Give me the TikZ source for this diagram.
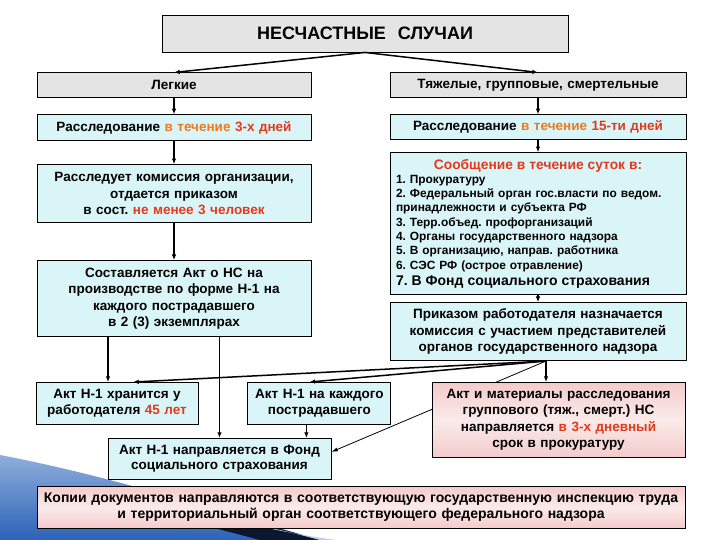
\documentclass[tikz,border=0pt]{standalone}
\usepackage{fontspec}
\setmainfont{Liberation Sans}
\usetikzlibrary{positioning, arrows.meta}
\frenchspacing

\definecolor{lgray}{HTML}{E4E4E4}
\definecolor{lcyan}{HTML}{DAF5F7}
\definecolor{lpink}{HTML}{F4CBCB}
\definecolor{hor}{HTML}{EB7A22}
\definecolor{hred}{HTML}{E23A1C}
\definecolor{swA}{HTML}{8FAEDB}
\definecolor{swB}{HTML}{2C62B8}
\definecolor{swC}{HTML}{0B1630}

\begin{document}
\begin{tikzpicture}[x=1pt, y=-1pt,
        G/.style = {draw, black, fill=lgray, line width=0.9pt, inner sep=2pt, align=center, font=\bfseries\fontsize{13.5}{16.5}\selectfont},
        C/.style = {draw, black, fill=lcyan, line width=0.9pt, inner sep=2pt, align=center, font=\bfseries\fontsize{13.5}{16.5}\selectfont},
        P/.style = {draw, black, top color=lpink, bottom color=lpink, middle color=lpink!40, line width=0.9pt, inner sep=2pt, align=center, font=\bfseries\fontsize{13.5}{16.5}\selectfont},
        arrow/.style = {-{Latex[length=2mm, width=1.6mm]}, line width=1.5pt},
        arrowthin/.style = {-{Latex[length=2.2mm, width=1.4mm]}, line width=0.8pt}
    ]
        \useasboundingbox (0,0) rectangle (720,540);

        % slide background
        \shade[top color=swA, bottom color=swB] (0,455) .. controls (100,474) and (200,505) .. (320,540) -- (0,540) -- cycle;
        \fill[swC] (120,490) .. controls (200,508) and (260,523) .. (320,540) -- (260,540) .. controls (230,532) and (190,522) .. (110,500) -- cycle;
        \fill[swA!60] (230,520) .. controls (270,529) and (305,536) .. (336,540) -- (320,540) .. controls (290,532) and (260,525) .. (230,520) -- cycle;

        \node[G, text width=402pt, minimum height=37pt, font=\bfseries\fontsize{18}{20}\selectfont] (T) at (365,33.5) {НЕСЧАСТНЫЕ\ \ СЛУЧАИ};

        \node[G, text width=270pt, minimum height=25pt, below=20pt of T, xshift=-191pt] (Lg) {Легкие};
        \node[C, text width=270pt, minimum height=26pt, below=16pt of Lg] (Ll) {Расследование \textcolor{hor}{в течение} \textcolor{hred}{3-х дней}};
        \node[C, text width=270pt, minimum height=58pt, below=23pt of Ll] (Kom) {Расследует комиссия организации,\\отдается приказом\\в сост. \textcolor{hred}{не менее 3 человек}};
        \node[C, text width=270pt, minimum height=76pt, below=37pt of Kom] (Akt) {Составляется Акт о НС на\\производстве по форме Н-1 на\\каждого пострадавшего\\в 2 (3) экземплярах};

        \node[G, text width=292pt, minimum height=25pt, below=20pt of T, xshift=173pt] (Tj) {Тяжелые, групповые, смертельные};
        \node[C, text width=284pt, inner sep=6pt, minimum height=25pt, below=16pt of Tj] (Rr) {Расследование \textcolor{hor}{в течение} \textcolor{hred}{15-ти дней}};
        \node[C, text width=284pt, inner xsep=6pt, inner ysep=2pt, minimum height=142pt, below=12pt of Rr, align=left, font=\bfseries\fontsize{11.9}{14.3}\selectfont] (Soob) {{\centering\fontsize{13.8}{16}\selectfont\textcolor{hred}{Сообщение в течение суток в:}\par}
            1. Прокуратуру\\
            2. Федеральный орган гос.власти по ведом.\\
            принадлежности и субъекта РФ\\
            3. Терр.объед. профорганизаций\\
            4. Органы государственного надзора\\
            5. В организацию, направ. работника\\
            6. СЭС РФ (острое отравление)\par
            {\fontsize{14}{16.5}\selectfont 7. В Фонд социального страхования\par}};
        \node[C, text width=292pt, minimum height=58pt, below=7pt of Soob] (Prik) {Приказом работодателя назначается\\комиссия с участием представителей\\органов государственного надзора};

        \node[C, text width=158pt, minimum height=42pt, below=45pt of Akt, xshift=-57pt, font=\bfseries\fontsize{13.5}{15.5}\selectfont] (Hr) {Акт Н-1 хранится у\\работодателя \textcolor{hred}{45 лет}};
        \node[C, text width=139pt, minimum height=42pt, right=49pt of Hr, font=\bfseries\fontsize{13.5}{15.5}\selectfont] (Kzh) {Акт Н-1 на каждого\\пострадавшего};
        \node[C, text width=219pt, minimum height=41pt, below=13pt of Hr, xshift=102.5pt, font=\bfseries\fontsize{13.5}{15.5}\selectfont] (Fs) {Акт Н-1 направляется в Фонд\\социального страхования};
        \node[P, text width=644pt, minimum height=42pt, below=6pt of Fs, xshift=141.5pt, font=\bfseries\fontsize{14}{16}\selectfont] (Kp) {Копии документов направляются в соответствующую государственную инспекцию труда\\и территориальный орган соответствующего федерального надзора};

        \draw[arrow] (T.south) -- (Lg.north);
        \draw[arrow] (T.south) -- (Tj.north);
        \draw[arrow] (Lg) -- (Ll);
        \draw[arrow] (Ll) -- (Kom);
        \draw[arrow] (Kom) -- (Akt);
        \draw[arrow] (Tj) -- (Rr);
        \draw[arrow] (Rr) -- (Soob);
        \draw[arrow] (Soob) -- (Prik);

        \coordinate (h1) at ([xshift=-9pt]Hr.north);
        \coordinate (k1) at ([xshift=-13pt]Kzh.south);
        \coordinate (ap) at ([xshift=8pt]Prik.south);
        \draw[arrow] (h1 |- Akt.south) -- (h1);
        \draw[arrow] (Fs.north |- Akt.south) -- (Fs.north);
        \draw[arrow] (k1) -- (k1 |- Fs.north);
        \draw[arrow] (ap) -- ([xshift=16pt]Hr.north);
        \draw[arrow] (ap) -- ([xshift=-10pt]Kzh.north);
        \draw[arrowthin] (ap) -- ([yshift=7pt]Fs.east);

        \node[P, text width=249pt, minimum height=75pt, below=21pt of Prik, xshift=20.5pt] (Pr) {Акт и материалы расследования\\группового (тяж., смерт.) НС\\направляется \textcolor{hred}{в 3-х дневный}\\срок в прокуратуру};
        \draw[arrow] (ap) -- (ap |- Pr.north);

    \end{tikzpicture}
\end{document}
